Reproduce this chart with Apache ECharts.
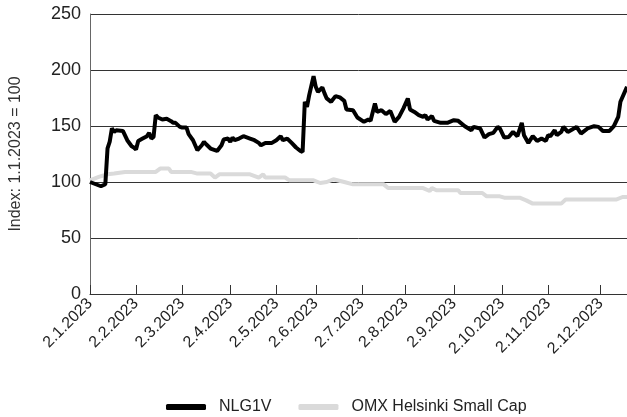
<!DOCTYPE html>
<html>
<head>
<meta charset="utf-8">
<script src="https://cdn.jsdelivr.net/npm/echarts@6/dist/echarts.min.js"></script>
<style>
  html, body { margin: 0; padding: 0; background: #fff; }
  #chart { width: 627px; height: 417px; }
</style>
</head>
<body>
<div id="chart"></div>
<script>
// trading-day slots on the x axis, ticks on the 2nd of each month
const pointCount = 246
const tickIndex = [0, 21, 42, 64, 85, 103, 124, 144, 166, 188, 209, 233]
const tickLabels = ['2.1.2023', '2.2.2023', '2.3.2023', '2.4.2023', '2.5.2023', '2.6.2023',
  '2.7.2023', '2.8.2023', '2.9.2023', '2.10.2023', '2.11.2023', '2.12.2023']
const yTicks = [0, 50, 100, 150, 200, 250]

// [slot, index value]
const nlg1v = [
  [0, 100], [5, 96.2], [7, 98], [8, 130], [9, 136], [10, 148], [11, 144.7], [12, 146.2],
  [15, 145.6], [17, 137.3], [19, 131.9], [20, 130.8], [21, 129], [22, 136.7], [24, 138.8],
  [26, 140.9], [27, 143.8], [28, 138.8], [29, 140.2], [30, 159.7], [31, 157.6], [33, 155.8],
  [35, 156.4], [37, 154.3], [38, 152.8], [39, 152.8], [41, 149.2], [42, 148.7], [44, 148.7],
  [45, 142.7], [47, 137.3], [49, 128.4], [51, 132.8], [52, 135.8], [53, 133.7], [55, 129.9],
  [58, 127.7], [60, 132.8], [61, 137.9], [63, 138.8], [64, 135.8], [65, 139.7], [66, 137.3],
  [68, 138.8], [70, 140.9], [73, 138.8], [75, 137.3], [77, 134.9], [78, 132.8], [80, 134.9],
  [83, 134.9], [85, 137.3], [87, 140.9], [88, 137.3], [90, 138.8], [92, 134.9], [94, 130.8],
  [96, 127.7], [97, 126.8], [98, 171.6], [99, 167], [100, 177.5], [102, 194.5], [103, 185],
  [104, 180.5], [106, 184.4], [107, 179.1], [108, 174.6], [110, 171.6], [112, 176.7],
  [114, 175.5], [116, 172.5], [117, 164.8], [120, 164.1], [122, 157.6], [125, 153.7],
  [127, 155.8], [128, 154.6], [130, 170.1], [131, 162.6], [133, 164.1], [135, 160.6],
  [137, 163.5], [139, 153.7], [141, 158.1], [143, 165.7], [145, 174.6], [146, 164.8],
  [148, 162.6], [150, 159.7], [152, 158.1], [153, 159.7], [154, 155.8], [156, 158.8],
  [157, 154.6], [160, 152.8], [163, 152.8], [166, 155.2], [168, 154.6], [171, 149.8],
  [174, 146.2], [175, 149.2], [178, 147.8], [180, 139.7], [182, 142.7], [184, 143.8],
  [186, 149.2], [187, 147.8], [189, 139.7], [191, 140.2], [193, 144.7], [195, 140.9],
  [197, 152.8], [198, 141.8], [200, 134.9], [202, 140.9], [204, 136.7], [206, 138.8],
  [208, 136.7], [209, 141.8], [210, 140.9], [212, 146.2], [213, 141.8], [215, 144.7],
  [216, 149.2], [218, 144.7], [220, 146.9], [222, 149.2], [224, 143.3], [225, 144.7],
  [227, 147.8], [230, 149.8], [232, 149.2], [234, 145.6], [237, 145.6], [239, 149.8],
  [241, 158.1], [242, 171.6], [245, 185]
]

const omxSmallCap = [
  [0, 101.5], [4, 104.5], [8, 106.9], [11, 107.5], [16, 109], [30, 109], [32, 112], [36, 112],
  [37, 109], [46, 109], [49, 107.5], [55, 107.5], [57, 104], [59, 106.9], [73, 106.9],
  [77, 104], [79, 106.9], [80, 104], [89, 104], [91, 101.5], [102, 101.5], [105, 99.1],
  [108, 100], [111, 102.4], [116, 100], [120, 97.9], [134, 97.9], [136, 94.6], [152, 94.6],
  [155, 92], [156, 94.6], [158, 92.6], [168, 92.6], [169, 90.2], [179, 90.2], [181, 87.2],
  [187, 87.2], [189, 86], [196, 86], [199, 83.6], [202, 80.7], [215, 80.7], [217, 84.3],
  [240, 84.3], [243, 86.6], [245, 86.6]
]

const categories = []
for (let i = 0; i < pointCount; i++) categories.push(String(i))
const isTick = (i) => tickIndex.indexOf(i) !== -1

const font = 'Liberation Sans, Arial, sans-serif'
const chart = echarts.init(document.getElementById('chart'))
chart.setOption({
  animation: false,
  textStyle: { fontFamily: font },
  grid: { left: 88, right: 0, top: 14, bottom: 123, containLabel: false },
  legend: {
    data: ['NLG1V', 'OMX Helsinki Small Cap'],
    left: 161,
    top: 394,
    itemWidth: 40,
    itemHeight: 6,
    itemGap: 27,
    icon: 'roundRect',
    textStyle: { fontSize: 16, color: '#222', fontFamily: font, padding: [0, 0, 0, 8] }
  },
  xAxis: {
    type: 'category',
    data: categories,
    boundaryGap: false,
    axisLine: { lineStyle: { color: '#333', width: 1 } },
    axisTick: { inside: true, length: 9, interval: (i) => isTick(i), lineStyle: { color: '#333' } },
    axisLabel: {
      interval: (i) => isTick(i),
      formatter: (v, i) => tickLabels[tickIndex.indexOf(Number(v))] || '',
      rotate: 45,
      margin: 7,
      fontSize: 16,
      color: '#222',
      fontFamily: font
    },
    splitLine: { show: false }
  },
  yAxis: {
    type: 'value',
    min: yTicks[0],
    max: yTicks[yTicks.length - 1],
    interval: 50,
    name: 'Index: 1.1.2023 = 100',
    nameLocation: 'middle',
    nameGap: 66,
    nameTextStyle: { fontSize: 16, color: '#333', fontFamily: font },
    axisLine: { show: true, lineStyle: { color: '#666' } },
    axisTick: { show: false },
    axisLabel: { fontSize: 18, color: '#222', margin: 9, fontFamily: font },
    splitLine: { lineStyle: { color: '#333', width: 1 } }
  },
  series: [
    {
      name: 'NLG1V',
      type: 'line',
      data: nlg1v,
      symbol: 'none',
      z: 3,
      lineStyle: { color: '#000', width: 4 },
      itemStyle: { color: '#000' }
    },
    {
      name: 'OMX Helsinki Small Cap',
      type: 'line',
      data: omxSmallCap,
      symbol: 'none',
      z: 2,
      lineStyle: { color: '#dadada', width: 4 },
      itemStyle: { color: '#dadada' }
    }
  ]
})
</script>
</body>
</html>
